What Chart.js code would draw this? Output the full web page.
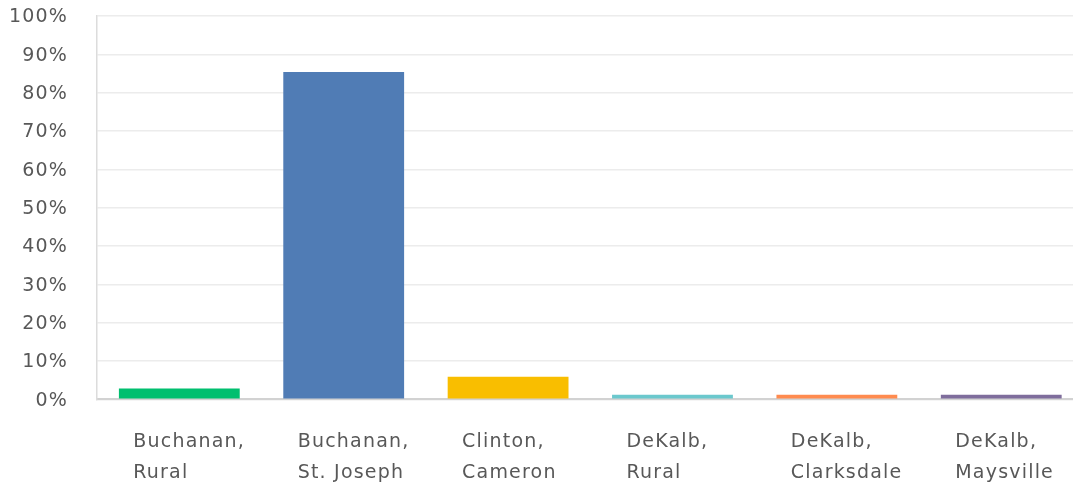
<!DOCTYPE html>
<html>
<head>
<meta charset="utf-8">
<script src="https://cdn.jsdelivr.net/npm/chart.js@4"></script>
<style>
  html, body { margin: 0; padding: 0; background: #fff; overflow: hidden; }
  #wrap { position: relative; width: 1100px; height: 489px; }
</style>
</head>
<body>
<div id="wrap"><canvas id="chart"></canvas></div>
<script>
const categories = [
  ["Buchanan,", "Rural"],
  ["Buchanan,", "St. Joseph"],
  ["Clinton,", "Cameron"],
  ["DeKalb,", "Rural"],
  ["DeKalb,", "Clarksdale"],
  ["DeKalb,", "Maysville"]
];
const percentValues = [2.8, 85.4, 5.9, 1.2, 1.2, 1.2];
const barColors = ["#00bf6f", "#507cb5", "#f9be00", "#6bc8cd", "#ff8b4f", "#7f6d9c"];
const yTicks = [0, 10, 20, 30, 40, 50, 60, 70, 80, 90, 100];

// the reference font is spaced out a bit, so add letter spacing on the context
const spacing = {
  id: "spacing",
  beforeLayout(chart) { chart.ctx.letterSpacing = "1.2px"; },
  beforeDraw(chart) { chart.ctx.letterSpacing = "1.2px"; }
};

const textColor = "#585858";

new Chart(document.getElementById("chart"), {
  type: "bar",
  data: {
    labels: categories,
    datasets: [{
      data: percentValues,
      backgroundColor: barColors,
      borderWidth: 0,
      categoryPercentage: 1,
      barPercentage: 0.735
    }]
  },
  options: {
    responsive: true,
    maintainAspectRatio: false,
    animation: false,
    layout: { padding: { left: 9, top: 16, right: 0, bottom: 0 } },
    plugins: { legend: { display: false }, tooltip: { enabled: false } },
    scales: {
      x: {
        // transparent tick marks only give the gap under the axis
        grid: { display: true, drawOnChartArea: false, drawTicks: true, tickLength: 27, tickColor: "transparent", color: "transparent" },
        border: { display: true, color: "#d2d2d2", width: 2 },
        ticks: {
          color: textColor,
          font: { family: "DejaVu Sans", size: 19, lineHeight: 1.65 },
          align: "start",
          labelOffset: -46,
          padding: 0,
          maxRotation: 0,
          autoSkip: false
        }
      },
      y: {
        min: 0,
        max: 100,
        afterBuildTicks(scale) { scale.ticks = yTicks.map(v => ({ value: v })); },
        grid: { color: "#ececec", lineWidth: 1.5, drawTicks: true, tickLength: 29, tickColor: "transparent" },
        border: { display: true, color: "#dcdcdc", width: 1.5 },
        ticks: {
          color: textColor,
          font: { family: "DejaVu Sans", size: 19 },
          padding: 0,
          labelOffset: 1.5,
          callback: v => v + "%"
        }
      }
    }
  },
  plugins: [spacing]
});
</script>
</body>
</html>
